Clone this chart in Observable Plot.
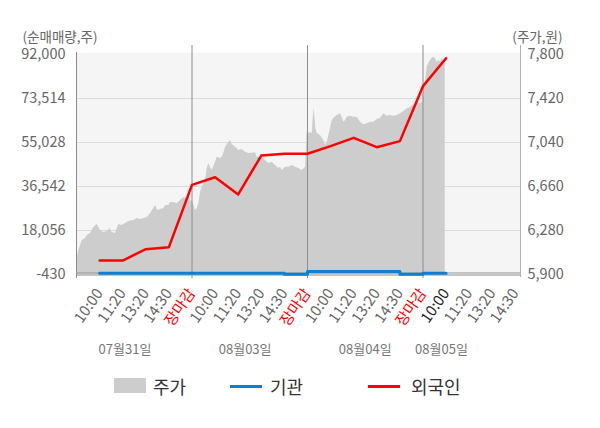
<!DOCTYPE html>
<html><head><meta charset="utf-8">
<script src="https://cdn.jsdelivr.net/npm/d3@7"></script>
<script src="https://cdn.jsdelivr.net/npm/@observablehq/plot@0.6"></script>
<style>
body{margin:0;background:#fff;font-family:'Noto Sans CJK KR','Noto Sans',sans-serif;}
#wrap{position:relative;width:600px;height:428px;}
#legend .sw{position:absolute;}
#legend .lt{position:absolute;top:375px;line-height:22px;font-size:18px;color:#333;}
</style></head><body>
<div id="wrap"><div id="chart"></div><div id="legend"></div></div>
<script>
// ---- data ----
const leftTicks = [-430, 18056, 36542, 55028, 73514, 92000];
const priceTicks = [5900, 6280, 6660, 7040, 7420, 7800];
const dayLabels = ["07월31일", "08월03일", "08월04일", "08월05일"];
const dayLabelSlot = [42, 146, 250, 316];
const dayBounds = [100, 200, 300];
const tickSlots = [20,40,60,80,100,120,140,160,180,200,220,240,260,280,300,320,340,360,380];
const tickLabels = ["10:00","11:20","13:20","14:30","장마감","10:00","11:20","13:20","14:30","장마감","10:00","11:20","13:20","14:30","장마감","10:00","11:20","13:20","14:30"];
const tickKind = ["n","n","n","n","close","n","n","n","n","close","n","n","n","n","close","now","n","n","n"];
const flowSlots = [20,40,60,80,100,120,140,160,180,200,220,240,260,280,300,320];
const foreignNet = [5450,5450,10200,11050,37250,40450,33200,49550,50300,50300,53500,57000,53050,55600,78700,90450];
const institutionNet = [100,100,100,100,100,100,100,100,100,-300,830,830,830,830,-300,100];
const priceSlot = [0,0.9,2.0,3.5,4.9,7.8,9.3,12.1,15.0,17.9,20.8,23.6,26.6,28.8,30.9,33.8,36.6,39.6,42.4,45.3,49.6,52.6,55.4,58.3,61.2,64.1,66.9,68.4,70.4,72.7,75.6,77.1,79.9,81.4,84.2,87.2,90.0,92.9,95.8,97.2,98.7,
100.2,101.6,103.0,104.5,105.9,107.4,108.8,110.2,111.7,113.2,114.5,116.0,117.5,120.3,121.8,124.7,126.1,127.5,129.0,131.3,133.3,134.8,137.7,140.5,143.5,146.3,149.2,152.1,155.0,156.5,160.8,163.6,166.5,169.4,172.3,175.2,176.6,178.1,181.0,183.8,186.8,189.6,192.5,195.4,198.3,
199.7,201.1,202.6,204.1,205.5,206.3,207.2,208.4,211.3,214.1,215.6,217.1,218.4,219.9,221.4,222.8,225.7,228.6,230.0,231.4,232.9,234.4,237.2,240.1,243.0,245.9,248.7,251.7,254.5,257.4,260.3,263.2,266.1,269.0,271.9,274.7,277.7,280.5,283.4,286.3,289.2,292.0,295.0,297.8,299.3,
300.7,302.2,303.6,305.0,306.5,307.9,309.4,310.8,312.3,313.7,315.2,316.6,318.0,319.2];
const priceValue = [6122,6056,6107,6150,6194,6211,6237,6254,6306,6332,6280,6263,6271,6297,6263,6254,6332,6323,6340,6358,6366,6384,6375,6384,6392,6427,6470,6496,6453,6461,6470,6496,6496,6522,6522,6513,6539,6565,6556,6582,6539,
6530,6500,6453,6470,6513,6611,6654,6686,6712,6816,6859,6824,6798,6870,6913,6902,6913,6945,6999,7031,7057,7023,6999,6971,6980,6956,6945,6948,6951,6913,6910,6885,6859,6870,6841,6816,6827,6798,6827,6827,6841,6827,6816,6798,6827,
7135,7118,7126,7118,7331,7273,7161,7118,7100,7057,7014,7043,7100,7161,7230,7250,7273,7288,7259,7215,7230,7259,7267,7259,7259,7215,7193,7202,7215,7215,7239,7250,7288,7267,7273,7267,7273,7288,7308,7331,7345,7366,7388,7374,7388,
7532,7561,7690,7720,7748,7768,7777,7763,7734,7748,7734,7763,7748,7748];
const xMax = 384.4;

// ---- derived tables ----
const yMin = leftTicks[0], yMax = leftTicks[leftTicks.length - 1];
const pMin = priceTicks[0], pMax = priceTicks[priceTicks.length - 1];
const conv = p => yMin + (p - pMin) * (yMax - yMin) / (pMax - pMin);
const unconv = v => pMin + (v - yMin) * (pMax - pMin) / (yMax - yMin);
const fmt = v => Math.round(v).toLocaleString("en-US");
const price = priceSlot.map((t, i) => ({t, p: priceValue[i]}));
const foreign = flowSlots.map((t, i) => ({t, v: foreignNet[i]}));
const inst = flowSlots.map((t, i) => ({t, v: institutionNet[i]}));
const ticks = tickSlots.map((t, i) => ({t, label: tickLabels[i], kind: tickKind[i]}));
const dates = dayLabels.map((d, i) => ({t: dayLabelSlot[i], d}));
const font = "'Noto Sans CJK KR','Noto Sans',sans-serif";
const tickText = (kind, color) => Plot.text(ticks.filter(d => d.kind === kind), {
  x: "t", text: "label", frameAnchor: "bottom", dy: 16, rotate: -55,
  textAnchor: "end", lineAnchor: "middle", fill: color, fontSize: 15
});

const chart = Plot.plot({
  width: 600, height: 360,
  marginLeft: 76, marginRight: 80, marginTop: 54, marginBottom: 86,
  x: {domain: [0, xMax], axis: null},
  y: {domain: [yMin, yMax], axis: null},
  style: {fontFamily: font, fontSize: "14px", color: "#666", background: "transparent", overflow: "visible"},
  marks: [
    Plot.frame({fill: "#f5f5f5", stroke: null, insetTop: -2}),
    Plot.gridY(leftTicks.slice(1, -1), {stroke: "#dadada", strokeOpacity: 1}),
    Plot.areaY(price, {x: "t", y1: conv(pMin), y2: d => conv(d.p), fill: "#cdcdcd"}),
    Plot.ruleX(dayBounds, {stroke: "#8c8c8c", insetTop: -9, insetBottom: -4}),
    Plot.ruleX([0], {stroke: "#8c8c8c", insetTop: -2, insetBottom: -4}),
    Plot.ruleX([xMax], {stroke: "#b0b0b0", insetTop: -9, insetBottom: -3}),
    Plot.ruleY([yMin], {stroke: "#8c8c8c", dy: 0.5}),
    Plot.ruleY([0], {stroke: "#9a9a9a", dy: -0.5}),
    Plot.line(inst, {x: "t", y: "v", stroke: "#0f7fd1", strokeWidth: 3, curve: "step-before"}),
    Plot.line(foreign, {x: "t", y: "v", stroke: "#ff0000", strokeWidth: 2.5}),
    Plot.axisY(leftTicks, {anchor: "left", label: null, tickSize: 0, tickPadding: 11, tickFormat: fmt, fontSize: 14.5}),
    Plot.axisY(leftTicks, {anchor: "right", label: null, tickSize: 0, tickPadding: 7, tickFormat: v => fmt(unconv(v)), fontSize: 14.5}),
    tickText("n", "#666"),
    tickText("close", "#ff0000"),
    tickText("now", "#222"),
    Plot.text(dates, {x: "t", text: "d", frameAnchor: "bottom", dy: 79, fill: "#777", fontSize: 13}),
    Plot.text(["(순매매량,주)"], {text: d => d, frameAnchor: "top-left", dx: -54, dy: -22, textAnchor: "start", fontSize: 13.5, fill: "#666"}),
    Plot.text(["(주가,원)"], {text: d => d, frameAnchor: "top-right", dx: 42, dy: -22, textAnchor: "end", fontSize: 13.5, fill: "#666"})
  ]
});
document.getElementById("chart").appendChild(chart);

// ---- legend ----
const legendItems = [
  {name: "주가", color: "#cdcdcd", kind: "box", sx: 114, tx: 153},
  {name: "기관", color: "#0f7fd1", kind: "line", sx: 230, tx: 270},
  {name: "외국인", color: "#ff0000", kind: "line", sx: 368, tx: 411}
];
const leg = document.getElementById("legend");
legendItems.forEach(it => {
  const s = document.createElement("div");
  s.className = "sw";
  s.style.left = it.sx + "px";
  s.style.width = "32px";
  s.style.background = it.color;
  if (it.kind === "box") { s.style.top = "378px"; s.style.height = "15px"; }
  else { s.style.top = "385px"; s.style.height = "3px"; }
  leg.appendChild(s);
  const t = document.createElement("div");
  t.className = "lt";
  t.style.left = it.tx + "px";
  t.textContent = it.name;
  leg.appendChild(t);
});
</script></body></html>
